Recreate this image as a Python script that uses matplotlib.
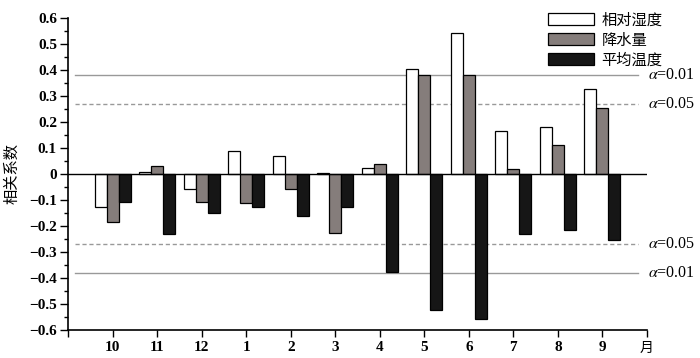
import numpy as np
import matplotlib
matplotlib.use("Agg")
import matplotlib.pyplot as plt

months = ["10", "11", "12", "1", "2", "3", "4", "5", "6", "7", "8", "9"]
humidity = [-0.125, 0.007, -0.057, 0.087, 0.071, 0.005, 0.025, 0.402, 0.544, 0.167, 0.181, 0.326]
precip = [-0.183, 0.030, -0.107, -0.110, -0.056, -0.227, 0.037, 0.379, 0.379, 0.020, 0.113, 0.254]
temp = [-0.109, -0.232, -0.149, -0.128, -0.161, -0.125, -0.375, -0.523, -0.557, -0.232, -0.215, -0.253]
series_names = ["相对湿度", "降水量", "平均温度"]
alpha_levels = [0.38, 0.27]
alpha_labels = [r"$\alpha$=0.01", r"$\alpha$=0.05"]

plt.rcParams["mathtext.fontset"] = "stix"
cjk = ["Noto Sans CJK SC", "DejaVu Sans"]
serif = "Liberation Serif"

fig = plt.figure(figsize=(7, 3.58), dpi=100)
ax = fig.add_axes([68 / 700, 28 / 358, 579 / 700, 312 / 358])

x = np.arange(len(months))
w = 0.27
colors = ["white", "#857d7b", "#161616"]
for i, (vals, c, name) in enumerate(zip([humidity, precip, temp], colors, series_names)):
    ax.bar(x + (i - 1) * w, vals, w, color=c, edgecolor="black", linewidth=0.9,
           label=name, zorder=3)

ax.axhline(0, color="black", lw=1, zorder=4)

# significance lines
styles = ["-", "--"]
for lvl, lab, ls in zip(alpha_levels, alpha_labels, styles):
    for sgn in (1, -1):
        ax.plot([-0.84, 11.79], [sgn * lvl, sgn * lvl], color="#999999", ls=ls,
                lw=1, dashes=(3, 2) if ls == "--" else (None, None), zorder=1)
        ax.text(12.02, sgn * lvl, lab, fontsize=11.5, family=serif,
                va="center", ha="left", clip_on=False)

ax.set_xlim(-1, 12)
ax.set_ylim(-0.6, 0.6)
ax.set_xticks(list(range(-1, 13)))
ax.set_xticklabels([""] + months + ["月"])
for lab in ax.get_xticklabels():
    lab.set_family(serif)
    lab.set_fontweight("bold")
    lab.set_fontsize(11)
yue = ax.get_xticklabels()[-1]
yue.set_family(cjk)
yue.set_fontweight("normal")
yue.set_fontsize(10)

yt = np.round(np.arange(-0.6, 0.61, 0.1), 1)
ax.set_yticks(yt)
ax.set_yticklabels(["0" if v == 0 else f"{v:.1f}".replace("-", "−") for v in yt],
                   family=serif, fontweight="bold", fontsize=11)
ax.set_yticks(np.arange(-0.55, 0.6, 0.1), minor=True)
ax.tick_params(axis="y", which="major", length=6, width=1, direction="out", pad=2)
ax.tick_params(axis="y", which="minor", length=3, width=1, direction="out")
ax.tick_params(axis="x", length=5, width=1, direction="out", pad=3)

for s in ["top", "right"]:
    ax.spines[s].set_visible(False)
for s in ["left", "bottom"]:
    ax.spines[s].set_linewidth(1.2)

ax.set_ylabel("相关系数", family=cjk, fontsize=11, labelpad=6)

leg = ax.legend(loc="upper left", bbox_to_anchor=(0.805, 1.065), frameon=False,
                prop={"family": cjk, "size": 11}, handlelength=3.0, handleheight=0.8,
                labelspacing=0.2, handletextpad=0.5)

fig.savefig("out.png", dpi=100)
